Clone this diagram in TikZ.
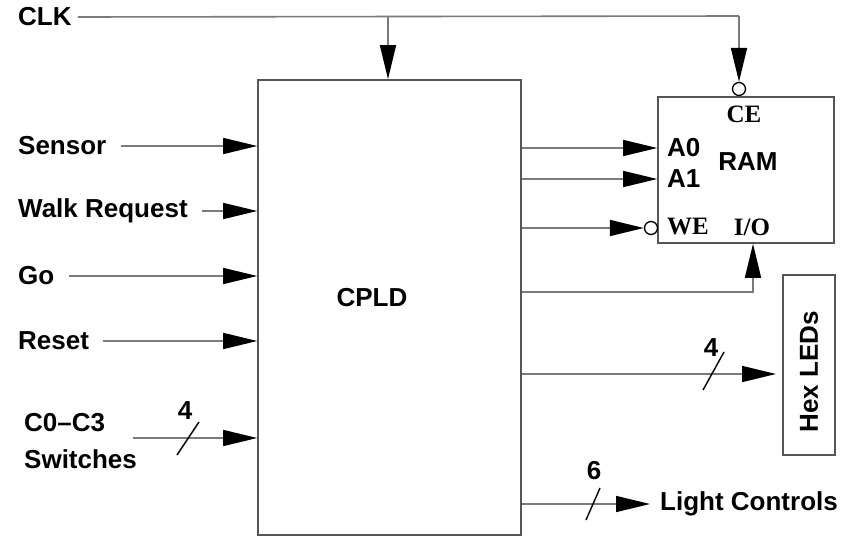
\documentclass[tikz,border=0pt]{standalone}
\usepackage{fontspec}
\setmainfont{Liberation Sans}
\newfontfamily\pinfont{Liberation Serif}
\usepackage{tikz}
\usetikzlibrary{arrows.meta, positioning, calc}
\definecolor{wire}{HTML}{7A7A7A}
\definecolor{edge}{HTML}{555555}

\begin{document}
\begin{tikzpicture}[
      x=1pt, y=-1pt,
      %% Block outlines
      blk/.style={rectangle, draw=edge, line width=1.6pt, inner sep=0pt},
      %% Signal names
      lbl/.style={font=\fontsize{26}{30}\selectfont\bfseries, inner sep=0pt},
      %% Pin names inside the RAM (serif)
      pin/.style={font=\fontsize{25}{28}\selectfont\pinfont\bfseries, inner sep=0pt},
      arr/.style={draw=wire, line width=1.6pt,
                  -{Triangle[length=34pt, width=16pt, color=black]}},
      wire/.style={draw=wire, line width=1.6pt},
      bus/.style={draw=black, line width=1.4pt},
      bub/.style={circle, draw=black, line width=1.3pt, fill=white,
                  minimum size=13pt, inner sep=0pt},
    ]
    \useasboundingbox (0,0) rectangle (854,538);

    %% ── Blocks ──────────────────────────────────────────────────────────────
    \node[blk, minimum width=263pt, minimum height=455pt] (cpld) at (389.5,307.5) {};
    \node[lbl] at (372,298) {CPLD};

    \node[blk, minimum width=176pt, minimum height=146pt] (ram) at (746,170) {};
    \node[lbl] (ramtxt) at (748,162) {RAM};
    \node[pin] (ce) at (744,114) {CE};
    \node[lbl, anchor=west] (a0) at (667,148) {A0};
    \node[lbl, anchor=west] (a1) at (667,179) {A1};
    \node[pin, anchor=west] (we) at (667,227) {WE};
    \node[pin] (io) at (752,227) {I/O};

    \node[blk, minimum width=52pt, minimum height=180pt] (hex) at (809,365) {};
    \node[lbl, rotate=90] at ([yshift=-7pt]hex.center) {Hex LEDs};

    %% ── Clock ───────────────────────────────────────────────────────────────
    \node[lbl, anchor=west] (clk) at (18,17) {CLK};
    \node[bub] (cebub) at (739,89) {};
    \coordinate (clkend) at (739,16);
    \coordinate (clktap) at (388,16);
    \draw[wire] (clk.east) ++(6,0) -- (clkend);
    \draw[arr] (clktap) -- (clktap |- cpld.north);
    \draw[arr] (clkend) -- (cebub.north);

    %% ── Inputs on the left ──────────────────────────────────────────────────
    \node[lbl, anchor=west] (sensor) at (18,146) {Sensor};
    \node[lbl, anchor=west] (walk)   at (18,211) {Walk Request};
    \node[lbl, anchor=west] (go)     at (18,276) {Go};
    \node[lbl, anchor=west] (reset)  at (18,341) {Reset};
    \node[lbl, anchor=west, align=left, font=\fontsize{26}{37}\selectfont\bfseries]
      (sw) at (24,441) {C0--C3\\Switches};

    \draw[arr] ([xshift=14pt]sensor.east) -- (sensor -| cpld.west);
    \draw[arr] ([xshift=14pt]walk.east)   -- (walk -| cpld.west);
    \draw[arr] ([xshift=14pt]go.east)     -- (go -| cpld.west);
    \draw[arr] ([xshift=14pt]reset.east)  -- (reset -| cpld.west);

    \coordinate (swin) at (133,438);
    \draw[arr] (swin) -- (swin -| cpld.west);
    \draw[bus] (177,455) -- (199,422);
    \node[lbl] at (185,411) {4};

    %% ── CPLD to RAM ─────────────────────────────────────────────────────────
    \coordinate (a0in) at (ram.west |- a0);
    \coordinate (a1in) at (ram.west |- a1);
    \draw[arr] (cpld.east |- a0in) -- (a0in);
    \draw[arr] (cpld.east |- a1in) -- (a1in);
    \node[bub] (webub) at (651,228) {};
    \draw[arr] (cpld.east |- webub) -- (webub.west);
    \coordinate (iobend) at (753,292);
    \draw[arr] (cpld.east |- iobend) -- (iobend) -- (iobend |- ram.south);

    %% ── Outputs ─────────────────────────────────────────────────────────────
    \coordinate (hexin) at (776,374);
    \draw[arr] (cpld.east |- hexin) -- (hexin);
    \draw[bus] (703,390) -- (724,352);
    \node[lbl] at (711,348) {4};

    \node[lbl, anchor=west] (light) at (660,504) {Light Controls};
    \draw[arr] (cpld.east |- light) -- ([xshift=-10pt]light.west);
    \draw[bus] (586,520) -- (600,488);
    \node[lbl] at (594,471) {6};
  \end{tikzpicture}
\end{document}
